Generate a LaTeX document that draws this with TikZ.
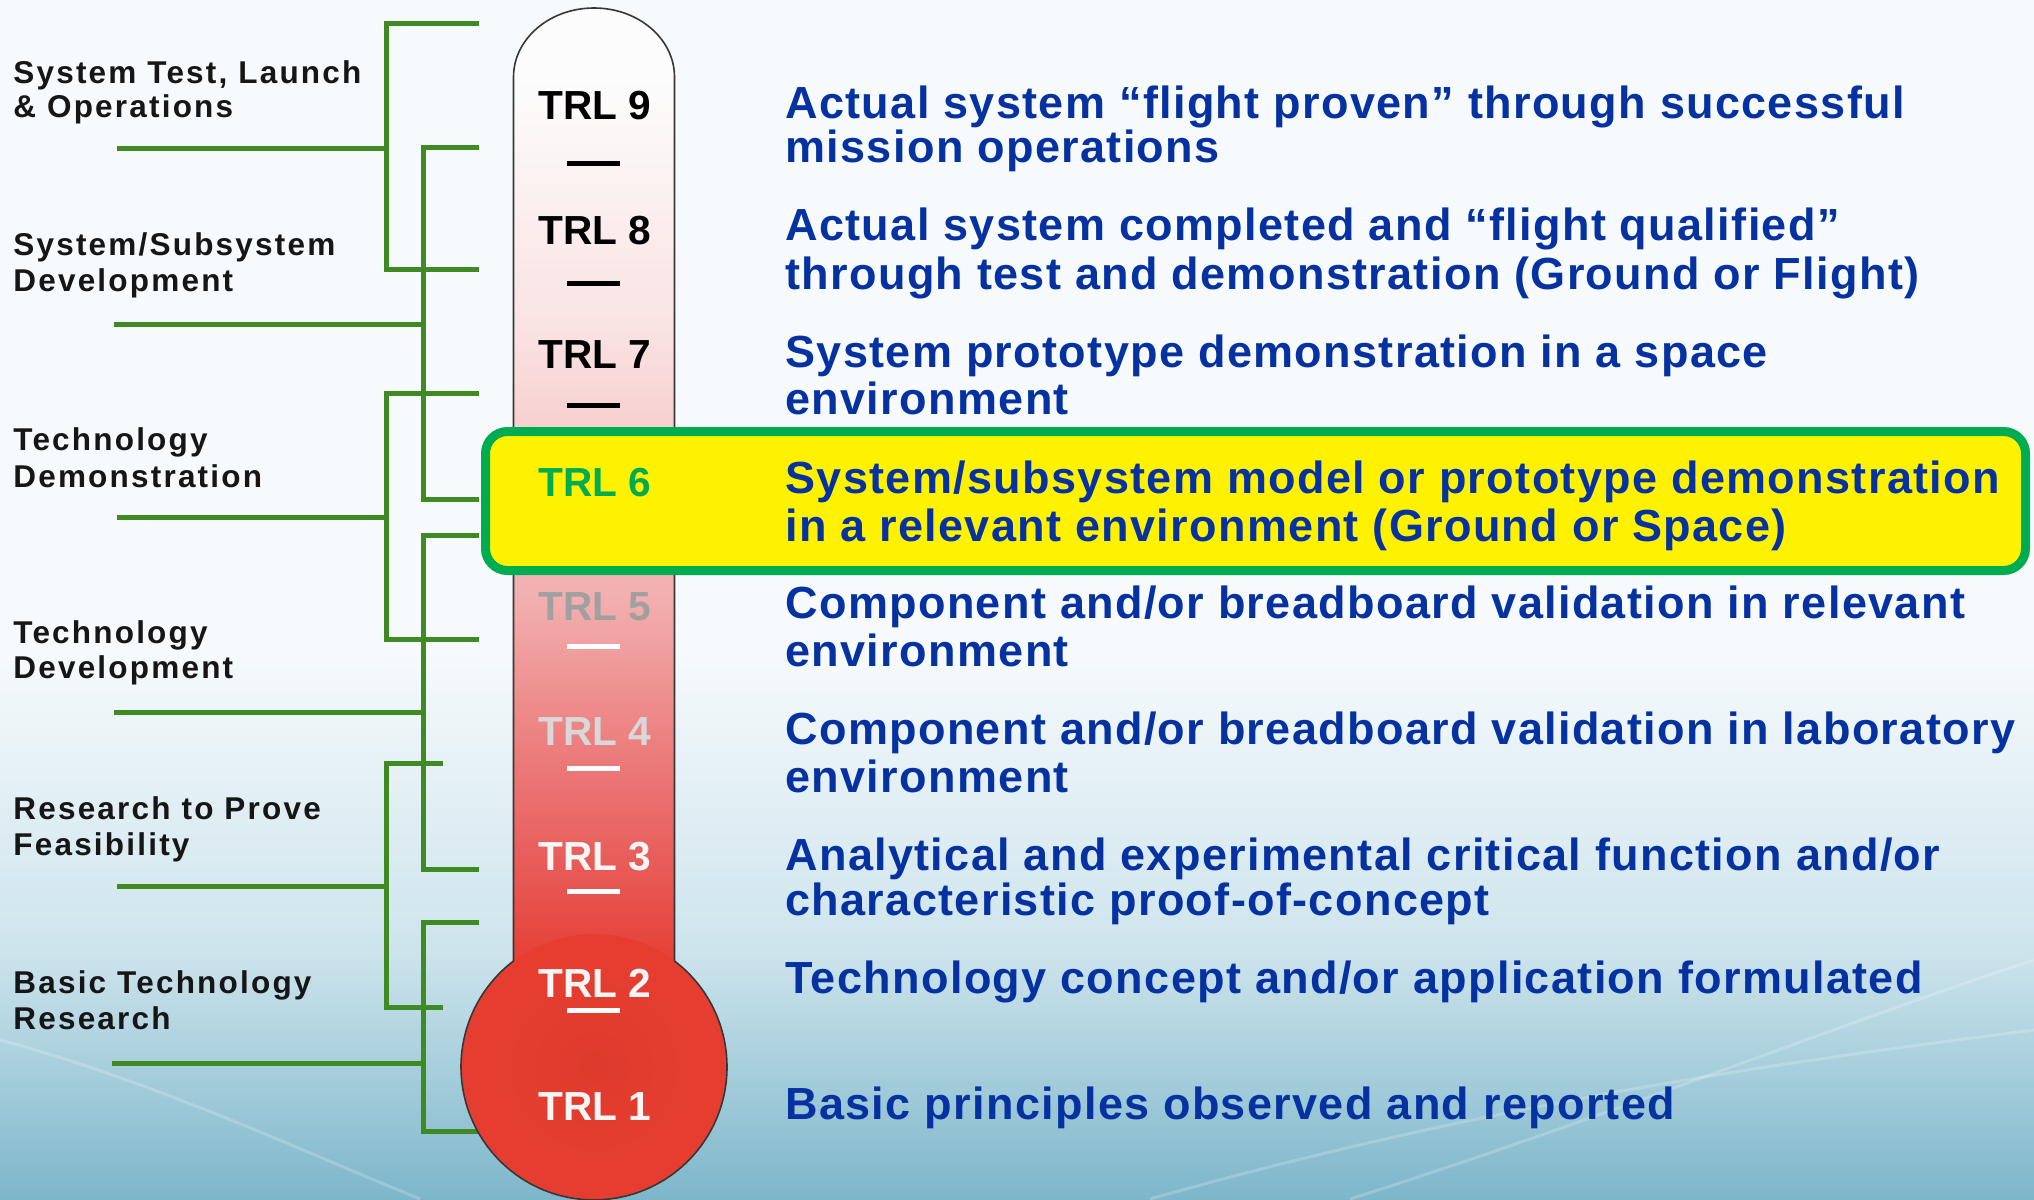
\documentclass[tikz,border=0pt]{standalone}
\usepackage{fontspec}
\setmainfont{Liberation Sans}
\newfontfamily\descfam{Liberation Sans}[LetterSpace=3.0]
\newfontfamily\labfam{Liberation Sans}[LetterSpace=7]
\definecolor{bgtop}{RGB}{246,250,252}
\definecolor{bgmid}{RGB}{205,228,236}
\definecolor{bgbot}{RGB}{125,182,202}
\definecolor{brgreen}{RGB}{64,138,36}
\definecolor{boxgreen}{RGB}{0,172,80}
\definecolor{descblue}{RGB}{5,50,160}
\definecolor{labblack}{RGB}{22,22,22}
\definecolor{bulbred}{RGB}{229,62,48}
\definecolor{bulbdark}{RGB}{222,58,45}
\definecolor{tA}{RGB}{252,252,252}
\definecolor{tB}{RGB}{250,226,226}
\definecolor{tC}{RGB}{242,174,174}
\definecolor{tD}{RGB}{236,128,128}
\definecolor{tE}{RGB}{232,92,90}
\definecolor{tF}{RGB}{229,62,50}
\definecolor{grayfive}{RGB}{160,160,160}
\definecolor{grayfour}{RGB}{216,216,216}
\definecolor{whiteish}{RGB}{245,245,245}
\definecolor{outline}{RGB}{55,55,55}
\begin{document}
\begin{tikzpicture}[x=0.5pt,y=-0.5pt,
  desc/.style={anchor=base west, inner sep=0pt, text=descblue,
    font=\descfam\bfseries\fontsize{22.5}{27}\selectfont},
  lab/.style={anchor=base west, inner sep=0pt, text=labblack,
    font=\labfam\bfseries\fontsize{15.75}{19}\selectfont},
  trl/.style={inner sep=0pt, font=\bfseries\fontsize{20.3}{24}\selectfont},
  br/.style={draw=brgreen, line width=2.5pt, line join=miter},
  trldash/.style={line width=2.5pt},
  tubeline/.style={draw=outline, line width=0.8pt},
  swoosh/.style={draw=white, line width=1.5pt, opacity=0.2}]
\useasboundingbox (0,0) rectangle (2034,1199);
% background
\fill[bgtop] (0,0) rectangle (2034,1199);
\shade[top color=bgtop, bottom color=bgmid] (0,650) rectangle (2034,951);
\shade[top color=bgmid, bottom color=bgbot] (0,950) rectangle (2034,1199);
\draw[swoosh] (1350,1199) .. controls (1600,1120) and (1850,1020) .. (2034,960);
\draw[swoosh] (1150,1199) .. controls (1500,1100) and (1800,1060) .. (2034,1030);
\draw[swoosh] (0,1040) .. controls (150,1080) and (300,1150) .. (420,1199);

% bracket coordinates
\coordinate (A1) at (479,23);  \coordinate (Aj) at (386,148); \coordinate (A2) at (479,269); \coordinate (Al) at (117,148);
\coordinate (B1) at (479,147); \coordinate (Bj) at (423,324); \coordinate (B2) at (479,499); \coordinate (Bl) at (114,324);
\coordinate (C1) at (479,393); \coordinate (Cj) at (386,517); \coordinate (C2) at (479,639); \coordinate (Cl) at (117,517);
\coordinate (D1) at (479,535); \coordinate (Dj) at (423,712); \coordinate (D2) at (479,869); \coordinate (Dl) at (114,712);
\coordinate (E1) at (443,763); \coordinate (Ej) at (386,886); \coordinate (E2) at (443,1007); \coordinate (El) at (117,886);
\coordinate (F1) at (479,922); \coordinate (Fj) at (423,1063); \coordinate (F2) at (482,1131); \coordinate (Fl) at (112,1063);
\foreach \b in {A,B,C,D,E,F}{
  \draw[br] (\b1) -| (\b j) |- (\b2);
  \draw[br] (\b l) -- (\b j);
}

% thermometer tube
\begin{scope}
  \clip (513.5,965) -- (513.5,77) arc[start angle=180, end angle=360, x radius=80.5, y radius=69] -- (674.5,965) -- cycle;
  \fill[tA] (500,0) rectangle (690,81);
  \shade[top color=tA, bottom color=tB] (500,80) rectangle (690,331);
  \shade[top color=tB, bottom color=tC] (500,330) rectangle (690,601);
  \shade[top color=tC, bottom color=tD] (500,600) rectangle (690,741);
  \shade[top color=tD, bottom color=tE] (500,740) rectangle (690,861);
  \shade[top color=tE, bottom color=tF] (500,860) rectangle (690,970);
\end{scope}
% bulb
\coordinate (bc) at (594,1067);
\fill[bulbred] (bc) circle[radius=133];
\shade[inner color=bulbdark, outer color=bulbred] (bc) circle[radius=95];
\draw[tubeline] (513.5,961) -- (513.5,77) arc[start angle=180, end angle=360, x radius=80.5, y radius=69] -- (674.5,961);
\draw[tubeline] (674.5,961) arc[start angle=-52.75, end angle=232.75, radius=133];

% scale ticks
\draw[trldash, black] (567,163) -- (620,163);
\draw[trldash, black] (567,283) -- (620,283);
\draw[trldash, black] (567,405) -- (620,405);
\draw[trldash, white] (567,646) -- (620,646);
\draw[trldash, white] (567,768) -- (620,768);
\draw[trldash, white] (567,891) -- (620,891);
\draw[trldash, white] (567,1010) -- (620,1010);

% TRL labels
\node[trl, text=black] (t9) at (595,106) {TRL 9};
\node[trl, text=black] (t8) at (595,231) {TRL 8};
\node[trl, text=black] (t7) at (595,355) {TRL 7};
\node[trl, text=grayfive] (t5) at (595,607) {TRL 5};
\node[trl, text=grayfour] (t4) at (595,732) {TRL 4};
\node[trl, text=whiteish] (t3) at (595,857) {TRL 3};
\node[trl, text=whiteish] (t2) at (595,983) {TRL 2};
\node[trl, text=whiteish] (t1) at (595,1107) {TRL 1};

% highlight box
\node[draw=boxgreen, line width=4.5pt, fill=yellow, rounded corners=11pt,
      minimum width=770pt, minimum height=69.5pt, inner sep=0pt] (hl) at (1255.5,501) {};
\node[trl, text=boxgreen] (t6) at (595,483) {TRL 6};

% descriptions
\node[desc] (d9a) at (785,118) {Actual system “flight proven” through successful};
\node[desc] (d9b) at (785,162) {mission operations};
\node[desc] (d8a) at (785,240) {Actual system completed and “flight qualified”};
\node[desc] (d8b) at (785,289) {through test and demonstration (Ground or Flight)};
\node[desc] (d7a) at (785,367) {System prototype demonstration in a space};
\node[desc] (d7b) at (785,414) {environment};
\node[desc] (d6a) at (785,493) {System/subsystem model or prototype demonstration};
\node[desc] (d6b) at (785,541) {in a relevant environment (Ground or Space)};
\node[desc] (d5a) at (785,618) {Component and/or breadboard validation in relevant};
\node[desc] (d5b) at (785,666) {environment};
\node[desc] (d4a) at (785,744) {Component and/or breadboard validation in laboratory};
\node[desc] (d4b) at (785,792) {environment};
\node[desc] (d3a) at (785,870) {Analytical and experimental critical function and/or};
\node[desc] (d3b) at (785,915) {characteristic proof-of-concept};
\node[desc] (d2a) at (785,993) {Technology concept and/or application formulated};
\node[desc] (d1a) at (785,1119) {Basic principles observed and reported};

% left labels
\node[lab] (l1a) at (13,83) {System Test, Launch};
\node[lab] (l1b) at (13,117) {\& Operations};
\node[lab] (l2a) at (13,255) {System/Subsystem};
\node[lab] (l2b) at (13,291) {Development};
\node[lab] (l3a) at (13,450) {Technology};
\node[lab] (l3b) at (13,487) {Demonstration};
\node[lab] (l4a) at (13,643) {Technology};
\node[lab] (l4b) at (13,678) {Development};
\node[lab] (l5a) at (13,819) {Research to Prove};
\node[lab] (l5b) at (13,855) {Feasibility};
\node[lab] (l6a) at (13,993) {Basic Technology};
\node[lab] (l6b) at (13,1029) {Research};
\end{tikzpicture}
\end{document}
